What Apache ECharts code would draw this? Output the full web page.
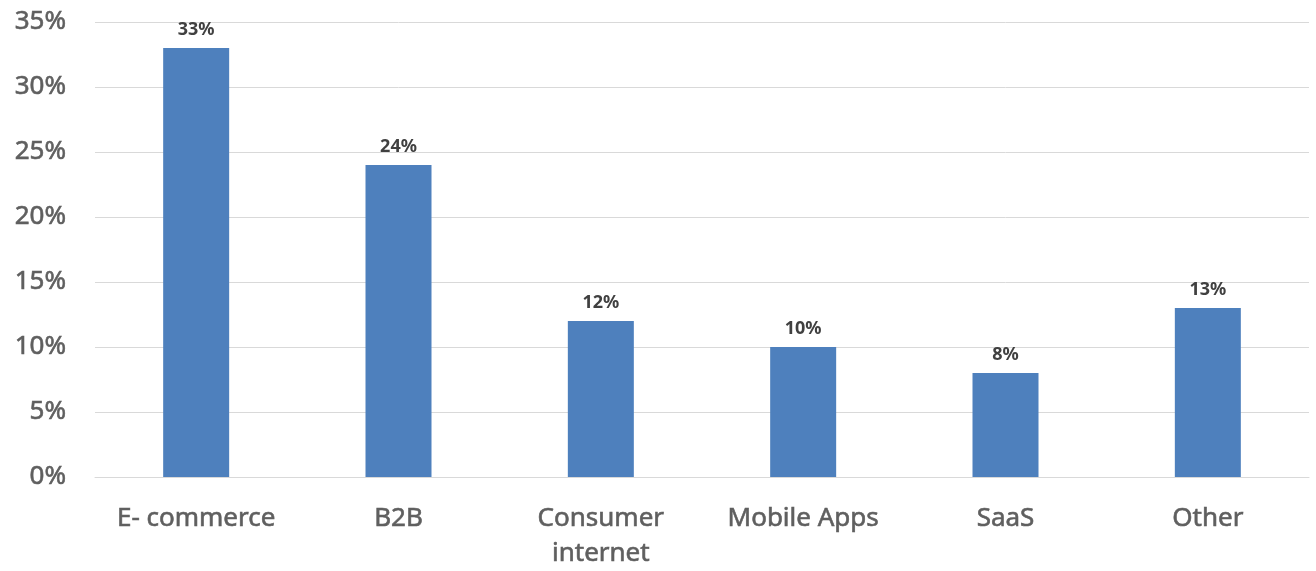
<!DOCTYPE html>
<html><head><meta charset="utf-8">
<script src="https://cdn.jsdelivr.net/npm/echarts@6/dist/echarts.min.js"></script>
<style>html,body{margin:0;padding:0;background:#fff}#c{width:1316px;height:571px}</style>
</head><body><div id="c"></div>
<script>
const categories = ["E- commerce", "B2B", "Consumer\ninternet", "Mobile Apps", "SaaS", "Other"];
const values = [33, 24, 12, 10, 8, 13];
const yTicks = [0, 5, 10, 15, 20, 25, 30, 35];

const chart = echarts.init(document.getElementById('c'));
chart.setOption({
  animation: false,
  grid: { left: 95, right: 7, top: 22, bottom: 93, containLabel: false },
  xAxis: {
    type: 'category', data: categories,
    axisLine: { show: true, lineStyle: { color: '#d9d9d9', width: 1 } },
    axisTick: { show: false },
    axisLabel: { color: '#5f5f5f', fontFamily: 'Noto Sans', fontSize: 26, margin: 24, lineHeight: 35, interval: 0, textBorderColor: '#5f5f5f', textBorderWidth: 0.6 }
  },
  yAxis: {
    type: 'value', min: yTicks[0], max: yTicks[yTicks.length - 1], interval: 5,
    axisLine: { show: false }, axisTick: { show: false },
    splitLine: { lineStyle: { color: '#d9d9d9', width: 1 } },
    axisLabel: { color: '#5f5f5f', fontFamily: 'Noto Sans', fontSize: 26, margin: 29, textBorderColor: '#5f5f5f', textBorderWidth: 0.6, formatter: v => v + '%' }
  },
  series: [{
    type: 'bar', data: values, barWidth: 66,
    itemStyle: { color: '#4e80bd' },
    label: { show: true, position: 'top', distance: 9, color: '#404040', fontFamily: 'Noto Sans', fontWeight: 'bold', fontSize: 18, formatter: p => p.value + '%' }
  }]
});
</script></body></html>
